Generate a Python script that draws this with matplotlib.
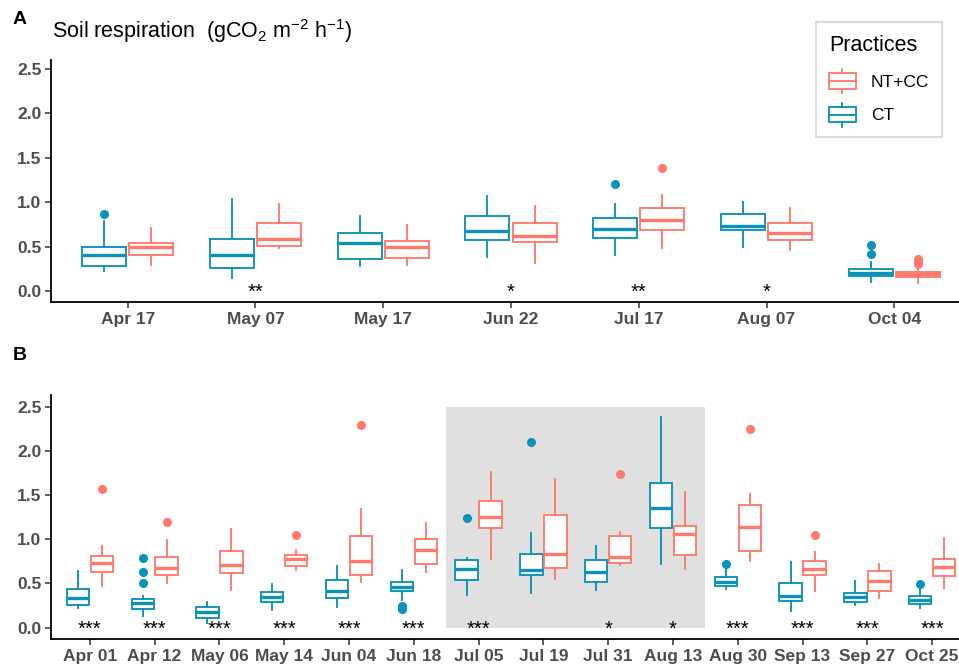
import matplotlib
matplotlib.use("Agg")
import matplotlib.pyplot as plt
from matplotlib.patches import Rectangle, Patch
from matplotlib.lines import Line2D
from matplotlib.legend_handler import HandlerBase

plt.rcParams['font.family'] = ['Liberation Sans', 'DejaVu Sans']
plt.rcParams['mathtext.fontset'] = 'custom'
plt.rcParams['mathtext.rm'] = 'Liberation Sans'
plt.rcParams['mathtext.it'] = 'Liberation Sans:italic'
plt.rcParams['mathtext.bf'] = 'Liberation Sans:bold'
plt.rcParams['mathtext.default'] = 'regular'

# ---------------- data ----------------
A_dates = ['Apr 17', 'May 07', 'May 17', 'Jun 22', 'Jul 17', 'Aug 07', 'Oct 04']
A_ct_whislo = [0.22, 0.15, 0.28, 0.38, 0.41, 0.49, 0.105]
A_ct_q1 = [0.285, 0.255, 0.357, 0.575, 0.597, 0.687, 0.169]
A_ct_med = [0.41, 0.40, 0.54, 0.675, 0.70, 0.735, 0.206]
A_ct_q3 = [0.50, 0.59, 0.65, 0.845, 0.82, 0.864, 0.245]
A_ct_whishi = [0.79, 1.04, 0.845, 1.07, 0.975, 1.0, 0.33]
A_ct_fliers = [[0.87], [], [], [], [1.20], [], [0.42, 0.52]]
A_nc_whislo = [0.29, 0.48, 0.29, 0.31, 0.48, 0.46, 0.094]
A_nc_q1 = [0.41, 0.505, 0.368, 0.55, 0.687, 0.575, 0.16]
A_nc_med = [0.495, 0.585, 0.49, 0.62, 0.80, 0.65, 0.19]
A_nc_q3 = [0.54, 0.77, 0.567, 0.77, 0.93, 0.76, 0.217]
A_nc_whishi = [0.705, 0.975, 0.74, 0.96, 1.08, 0.93, 0.27]
A_nc_fliers = [[], [], [], [], [1.38], [], [0.30, 0.32, 0.34, 0.36]]
A_sig = ['', '**', '', '*', '**', '*', '']

B_dates = ['Apr 01', 'Apr 12', 'May 06', 'May 14', 'Jun 04', 'Jun 18', 'Jul 05',
           'Jul 19', 'Jul 31', 'Aug 13', 'Aug 30', 'Sep 13', 'Sep 27', 'Oct 25']
B_ct_whislo = [0.226, 0.136, 0.05, 0.20, 0.234, 0.313, 0.37, 0.388, 0.422, 0.716, 0.434, 0.189, 0.256, 0.219]
B_ct_q1 = [0.256, 0.211, 0.113, 0.287, 0.332, 0.411, 0.539, 0.596, 0.513, 1.131, 0.468, 0.302, 0.29, 0.268]
B_ct_med = [0.34, 0.275, 0.173, 0.343, 0.415, 0.464, 0.667, 0.652, 0.626, 1.35, 0.52, 0.358, 0.347, 0.313]
B_ct_q3 = [0.437, 0.32, 0.234, 0.403, 0.535, 0.517, 0.765, 0.837, 0.762, 1.633, 0.569, 0.509, 0.392, 0.358]
B_ct_whishi = [0.64, 0.362, 0.29, 0.498, 0.70, 0.649, 0.784, 1.067, 0.928, 2.387, 0.667, 0.747, 0.532, 0.434]
B_ct_fliers = [[], [0.50, 0.626, 0.784], [], [], [], [0.207, 0.228, 0.249], [1.237], [2.10],
               [], [], [0.724], [], [], [0.49]]
B_nc_whislo = [0.475, 0.50, 0.426, 0.652, 0.513, 0.626, 0.773, 0.547, 0.705, 0.66, 0.754, 0.419, 0.332, 0.452]
B_nc_q1 = [0.633, 0.596, 0.622, 0.70, 0.596, 0.72, 1.124, 0.671, 0.735, 0.826, 0.871, 0.596, 0.419, 0.588]
B_nc_med = [0.735, 0.671, 0.709, 0.777, 0.75, 0.875, 1.256, 0.837, 0.796, 1.06, 1.139, 0.66, 0.528, 0.686]
B_nc_q3 = [0.81, 0.796, 0.864, 0.818, 1.037, 1.003, 1.433, 1.278, 1.037, 1.154, 1.388, 0.758, 0.645, 0.777]
B_nc_whishi = [0.928, 0.988, 1.12, 0.879, 1.34, 1.184, 1.76, 1.68, 1.086, 1.531, 1.516, 0.856, 0.716, 1.01]
B_nc_fliers = [[1.57], [1.20], [], [1.045], [2.296], [], [], [], [1.735], [], [2.251], [1.045], [], []]
B_sig = ['***', '***', '***', '***', '***', '***', '***', '', '*', '*', '***', '***', '***', '***']
B_shade = (7, 10)   # categories (1-based) inside shaded period

yticks = [0.0, 0.5, 1.0, 1.5, 2.0, 2.5]
ytick_labels = ['0.0', '0.5', '1.0', '1.5', '2.0', '2.5']

BLUE = '#0A92B8'
RED = '#FF7A6B'
TICKCOL = '#4D4D4D'

# ---------------- figure ----------------
fig = plt.figure(figsize=(9.59, 6.65), dpi=100)
axA = fig.add_axes([51 / 959, (665 - 302) / 665, 920 / 959, 242 / 665])
axB = fig.add_axes([51 / 959, (665 - 639) / 665, 920 / 959, 244 / 665])

OFF = 0.185
W = 0.345
LW = 1.35


def make_stats(whislo, q1, med, q3, whishi, fliers):
    return [dict(whislo=a, q1=b, med=c, q3=d, whishi=e, fliers=f)
            for a, b, c, d, e, f in zip(whislo, q1, med, q3, whishi, fliers)]


def draw(ax, n, ct, nc, sig, ylim):
    pos = list(range(1, n + 1))
    for stats, color, sgn in ((ct, BLUE, -1), (nc, RED, 1)):
        ax.bxp(stats, positions=[p + sgn * OFF for p in pos], widths=W,
               patch_artist=True, showcaps=False, manage_ticks=False,
               boxprops=dict(facecolor='white', edgecolor=color, linewidth=LW),
               whiskerprops=dict(color=color, linewidth=LW),
               medianprops=dict(color=color, linewidth=2.4, solid_capstyle='butt'),
               flierprops=dict(marker='o', markerfacecolor=color, markeredgecolor=color,
                               markersize=5.5, linestyle='none'),
               zorder=3)
    for p, s in zip(pos, sig):
        if s:
            ax.text(p, -0.08, s, ha='center', va='baseline', fontsize=14.5,
                    color='black', zorder=4)
    ax.set_xlim(0.4, n + 0.6)
    ax.set_ylim(*ylim)
    ax.set_yticks(yticks)
    ax.set_yticklabels(ytick_labels)
    ax.set_xticks(pos)
    for sp in ('top', 'right'):
        ax.spines[sp].set_visible(False)
    for sp in ('left', 'bottom'):
        ax.spines[sp].set_linewidth(1.3)
        ax.spines[sp].set_color('black')
    ax.tick_params(axis='both', length=4, width=1.1, color='#333333',
                   labelcolor=TICKCOL, labelsize=12.5, pad=3)


A_ct = make_stats(A_ct_whislo, A_ct_q1, A_ct_med, A_ct_q3, A_ct_whishi, A_ct_fliers)
A_nc = make_stats(A_nc_whislo, A_nc_q1, A_nc_med, A_nc_q3, A_nc_whishi, A_nc_fliers)
B_ct = make_stats(B_ct_whislo, B_ct_q1, B_ct_med, B_ct_q3, B_ct_whishi, B_ct_fliers)
B_nc = make_stats(B_nc_whislo, B_nc_q1, B_nc_med, B_nc_q3, B_nc_whishi, B_nc_fliers)

axB.add_patch(Rectangle((B_shade[0] - 0.5, 0), B_shade[1] - B_shade[0] + 1, 2.5,
                        facecolor='#E0E0E0', edgecolor='none', zorder=0))

draw(axA, len(A_dates), A_ct, A_nc, A_sig, (-0.124, 2.60))
axA.set_xticklabels(A_dates)
draw(axB, len(B_dates), B_ct, B_nc, B_sig, (-0.128, 2.632))
axB.set_xticklabels(B_dates)
for ax in (axA, axB):
    for lab in ax.get_xticklabels() + ax.get_yticklabels():
        lab.set_fontweight('bold')

# panel tags and title
fig.text(13 / 959, 1 - 20 / 665, 'A', fontsize=14, fontweight='bold', va='center', ha='left')
fig.text(13 / 959, 1 - 356 / 665, 'B', fontsize=14, fontweight='bold', va='center', ha='left')
fig.text(52 / 959, 1 - 31 / 665, r'Soil respiration  (gCO$_2$ m$^{-2}$ h$^{-1}$)',
         fontsize=15.5, va='center', ha='left')


# legend
class BoxHandler(HandlerBase):
    def create_artists(self, legend, orig_handle, xdescent, ydescent, width, height,
                       fontsize, trans):
        c = orig_handle.get_edgecolor()
        x0, y0 = -xdescent, -ydescent
        lo, hi = y0 + 0.03 * height, y0 + 0.97 * height
        rect = Rectangle((x0, lo), width, hi - lo, facecolor='white', edgecolor=c,
                         linewidth=LW, transform=trans)
        xm = x0 + width / 2
        l1 = Line2D([xm, xm], [y0 - 0.22 * height, lo], color=c, linewidth=LW, transform=trans)
        l2 = Line2D([xm, xm], [hi, y0 + 1.22 * height], color=c, linewidth=LW, transform=trans)
        l3 = Line2D([x0, x0 + width], [y0 + 0.5 * height] * 2, color=c, linewidth=LW,
                    transform=trans)
        return [rect, l1, l2, l3]


handles = [Patch(edgecolor=RED, facecolor='white'), Patch(edgecolor=BLUE, facecolor='white')]
leg = fig.legend(handles, ['NT+CC', 'CT'], title='Practices', loc='upper left',
                 bbox_to_anchor=(816 / 959, 1 - 22 / 665), borderaxespad=0,
                 handler_map={Patch: BoxHandler()}, fontsize=12.5, title_fontsize=15.5,
                 handlelength=1.55, handleheight=1.1, labelspacing=0.95, handletextpad=0.85,
                 borderpad=0.75, frameon=True, fancybox=False, alignment='left')
leg.get_frame().set_edgecolor('#D3D3D3')
leg.get_frame().set_linewidth(1.5)

fig.savefig('out.png', dpi=100)
